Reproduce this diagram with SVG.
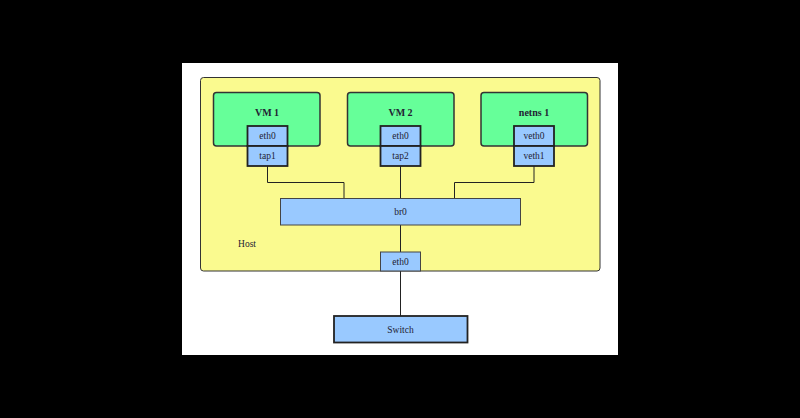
<svg xmlns="http://www.w3.org/2000/svg" width="800" height="418" viewBox="0 0 800 418">
<style>
.host{fill:#fafa8f;stroke:#333;stroke-width:1}
.vm{fill:#66ff99;stroke:#333;stroke-width:1.5}
.port{fill:#99c9ff;stroke:#222;stroke-width:1.8}
.br{fill:#99c9ff;stroke:#444;stroke-width:1}
.t{font-family:"Liberation Serif","DejaVu Serif",serif;fill:#223;text-anchor:middle}
.title{font-size:10px;font-weight:bold}
.lab{font-size:9.5px}
.conn{fill:none;stroke:#222;stroke-width:1}
</style>
<rect width="800" height="418" fill="#000"/>
<rect x="182" y="63" width="436" height="292" fill="#fff"/>
<g id="host">
<rect class="host" x="200.5" y="77.5" width="399.5" height="193.5" rx="3"/>
<text class="t lab" x="247" y="247">Host</text>
</g>
<g id="connectors">
<polyline class="conn" points="267.5,166 267.5,182.5 344,182.5 344,198"/>
<line class="conn" x1="400.5" y1="166" x2="400.5" y2="198"/>
<polyline class="conn" points="534,166 534,182.5 454.5,182.5 454.5,198"/>
<line class="conn" x1="400.5" y1="225" x2="400.5" y2="252"/>
<line class="conn" x1="400.5" y1="271" x2="400.5" y2="316"/>
</g>
<g id="vm1">
<rect class="vm" x="213.5" y="92.5" width="106.5" height="53.5" rx="3"/>
<text class="t title" x="267" y="115.5">VM 1</text>
</g>
<g id="vm2">
<rect class="vm" x="347.5" y="92.5" width="106.5" height="53.5" rx="3"/>
<text class="t title" x="400.5" y="115.5">VM 2</text>
</g>
<g id="netns1">
<rect class="vm" x="481" y="92.5" width="106.5" height="53.5" rx="3"/>
<text class="t title" x="534" y="115.5">netns 1</text>
</g>
<g id="vm1-eth0">
<rect class="port" x="247.5" y="126" width="40" height="20"/>
<text class="t lab" x="267.5" y="139.3">eth0</text>
</g>
<g id="tap1">
<rect class="port" x="247.5" y="146" width="40" height="20"/>
<text class="t lab" x="267.5" y="159.3">tap1</text>
</g>
<g id="vm2-eth0">
<rect class="port" x="380.5" y="126" width="40" height="20"/>
<text class="t lab" x="400.5" y="139.3">eth0</text>
</g>
<g id="tap2">
<rect class="port" x="380.5" y="146" width="40" height="20"/>
<text class="t lab" x="400.5" y="159.3">tap2</text>
</g>
<g id="veth0">
<rect class="port" x="514" y="126" width="40" height="20"/>
<text class="t lab" x="534" y="139.3">veth0</text>
</g>
<g id="veth1">
<rect class="port" x="514" y="146" width="40" height="20"/>
<text class="t lab" x="534" y="159.3">veth1</text>
</g>
<g id="br0">
<rect class="br" x="280.5" y="198.5" width="240" height="26.5"/>
<text class="t lab" x="400.5" y="215">br0</text>
</g>
<g id="host-eth0">
<rect class="br" x="380.5" y="252" width="40" height="19"/>
<text class="t lab" x="400.5" y="264.8">eth0</text>
</g>
<g id="switch">
<rect class="port" x="334" y="316" width="133.5" height="26.5"/>
<text class="t lab" x="400.5" y="332.5">Switch</text>
</g>
</svg>
